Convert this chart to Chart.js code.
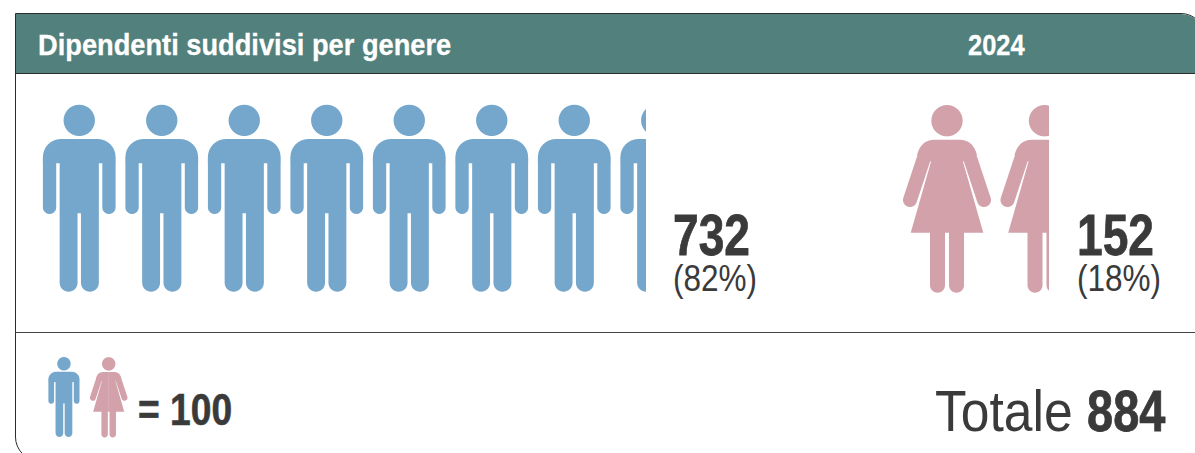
<!DOCTYPE html>
<html lang="it">
<head>
<meta charset="utf-8">
<title>Dipendenti suddivisi per genere</title>
<script src="https://cdn.jsdelivr.net/npm/chart.js@4"></script>
<style>
  html, body { margin: 0; padding: 0; background: #fff; }
  body { position: relative; width: 1195px; height: 453px; overflow: hidden;
         font-family: "Liberation Sans", sans-serif; color: #3a3a3a; }
  #frame { position: absolute; left: 15px; top: 13px; width: 1190px; height: 448px; box-sizing: border-box;
           border: 1px solid #2b2b2b; border-radius: 0 24px 0 24px; overflow: hidden; }
  #header { position: absolute; left: 0; top: 0; right: 0; height: 60px; background: #52807c;
            border-bottom: 1px solid #2b2b2b; box-sizing: border-box; }
  #divider { position: absolute; left: 15px; top: 332px; width: 1180px; height: 1px; background: #444; }
  .txt { position: absolute; white-space: nowrap; line-height: 1; transform-origin: left top; }
  .head { color: #fff; font-weight: bold; font-size: 30px; -webkit-text-stroke: 0.3px #fff; }
  .num { font-weight: bold; font-size: 57px; -webkit-text-stroke: 0.8px #3a3a3a; transform: scaleX(0.81); }
  .pct { font-size: 36px; transform: scaleX(0.875); }
  canvas { position: absolute; display: block; }
</style>
</head>
<body>
<div id="frame"><div id="header"></div></div>
<div id="divider"></div>
<div class="txt head" style="left:38px;top:30px;transform:scaleX(0.908)">Dipendenti suddivisi per genere</div>
<div class="txt head" style="left:968px;top:30px;transform:scaleX(0.85)">2024</div>

<canvas id="menChart" style="left:42px;top:100px"></canvas>
<canvas id="womenChart" style="left:901px;top:100px"></canvas>
<canvas id="menKey" style="left:48px;top:355px"></canvas>
<canvas id="womenKey" style="left:89px;top:355px"></canvas>

<div class="txt num" style="left:673px;top:207px">732</div>
<div class="txt pct" style="left:673px;top:261px">(82%)</div>
<div class="txt num" style="left:1077px;top:207px">152</div>
<div class="txt pct" style="left:1077px;top:261px">(18%)</div>
<div class="txt" style="left:138px;top:388px;font-size:44px;font-weight:bold;-webkit-text-stroke:0.6px #3a3a3a;transform:scaleX(0.845)">= 100</div>
<div class="txt" style="left:935px;top:382px;font-size:58px;transform:scaleX(0.89)">Totale</div>
<div class="txt" style="left:1087px;top:382px;font-size:58px;font-weight:bold;-webkit-text-stroke:0.8px #3a3a3a;transform:scaleX(0.81)">884</div>

<script>
const categories = ['Uomini', 'Donne'];
const employees = [732, 152];
const unitValue = 100;

const menColor = '#74a7cb';
const womenColor = '#d2a1a9';

// sagoma uomo, origine in alto a sinistra della casella
function drawMan(c) {
    const cx = 37.25;
    c.beginPath();
    c.arc(cx, 20.4, 15.7, 0, Math.PI * 2);
    c.fill();
    c.beginPath();
    c.roundRect(cx - 36.35, 39, 72.7, 24.3, [18, 18, 0, 0]);
    c.fill();
    c.beginPath();
    c.roundRect(cx - 36.35, 57, 13.3, 57, [0, 0, 6.65, 6.65]);
    c.roundRect(cx + 23.05, 57, 13.3, 57, [0, 0, 6.65, 6.65]);
    c.rect(cx - 19.6, 57, 39.2, 56.3);
    c.roundRect(cx - 19.6, 100, 17.9, 91.7, [0, 0, 8.9, 8.9]);
    c.roundRect(cx + 1.7, 100, 17.9, 91.7, [0, 0, 8.9, 8.9]);
    c.fill();
}

// sagoma donna
function drawWoman(c) {
    c.save();
    c.translate(46, 0);
    c.beginPath();
    c.arc(0, 20.7, 15.7, 0, Math.PI * 2);
    c.fill();
    for (const s of [-1, 1]) {
        c.beginPath();
        c.moveTo(0, 39.7);
        c.lineTo(s * 12.5, 39.7);
        c.quadraticCurveTo(s * 26, 39.7, s * 30, 55);
        c.lineTo(s * 19, 59);
        c.lineTo(s * 16, 61.7);
        c.lineTo(s * 36.3, 132.7);
        c.lineTo(0, 132.7);
        c.closePath();
        c.fill();
        c.beginPath();
        c.moveTo(s * 22.7, 56.8);
        c.lineTo(s * 37, 100);
        c.lineWidth = 14;
        c.lineCap = 'round';
        c.strokeStyle = c.fillStyle;
        c.stroke();
        c.beginPath();
        c.roundRect(s > 0 ? 2 : -17, 125, 15, 67.7, [0, 0, 7.5, 7.5]);
        c.fill();
    }
    c.restore();
}

// il riempimento della barra: una figura ogni unitValue
function iconPattern(ctx, drawIcon, color, pitch, height, iconScale) {
    const k = 2;
    const tile = document.createElement('canvas');
    tile.width = Math.round(pitch * k);
    tile.height = height * k;
    const t = tile.getContext('2d');
    t.scale(k * iconScale, k * iconScale);
    t.fillStyle = color;
    drawIcon(t);
    const pattern = ctx.createPattern(tile, 'repeat-x');
    pattern.setTransform(new DOMMatrix().scale(1 / k));
    return pattern;
}

function pictogram(id, label, value, drawIcon, color, pitch, height, iconScale) {
    const el = document.getElementById(id);
    el.width = Math.round(value / unitValue * pitch);
    el.height = height;
    el.style.width = el.width + 'px';
    el.style.height = height + 'px';
    const ctx = el.getContext('2d');
    return new Chart(ctx, {
        type: 'bar',
        data: {
            labels: [label],
            datasets: [{
                data: [value],
                backgroundColor: iconPattern(ctx, drawIcon, color, pitch, height, iconScale),
                borderWidth: 0,
                barPercentage: 1,
                categoryPercentage: 1
            }]
        },
        options: {
            indexAxis: 'y',
            responsive: false,
            animation: false,
            events: [],
            layout: { padding: 0 },
            plugins: { legend: { display: false }, tooltip: { enabled: false } },
            scales: {
                x: { display: false, min: 0, max: value },
                y: { display: false }
            }
        }
    });
}

pictogram('menChart', categories[0], employees[0], drawMan, menColor, 82.5, 195, 1);
pictogram('womenChart', categories[1], employees[1], drawWoman, womenColor, 97.5, 195, 1);
pictogram('menKey', categories[0], unitValue, drawMan, menColor, 33, 84, 0.428);
pictogram('womenKey', categories[1], unitValue, drawWoman, womenColor, 40, 84, 0.428);
</script>
</body>
</html>
